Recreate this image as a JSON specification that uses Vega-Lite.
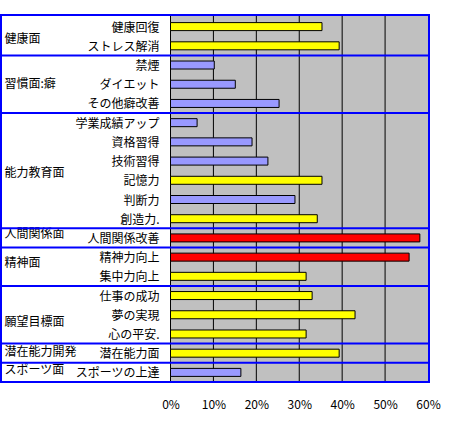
{
  "$schema": "https://vega.github.io/schema/vega-lite/v6.json",
  "autosize": "none",
  "width": 428,
  "height": 367,
  "padding": {"left": 1, "top": 15, "right": 28, "bottom": 48},
  "background": "white",
  "config": {
    "view": {"stroke": null},
    "font": "Noto Sans CJK JP",
    "axis": {"title": null}
  },
  "datasets": {
    "answers": [
      {"group": "健康面", "item": "健康回復", "value": 0.353},
      {"group": "健康面", "item": "ストレス解消", "value": 0.393},
      {"group": "習慣面:癖", "item": "禁煙", "value": 0.102},
      {"group": "習慣面:癖", "item": "ダイエット", "value": 0.151},
      {"group": "習慣面:癖", "item": "その他癖改善", "value": 0.253},
      {"group": "能力教育面", "item": "学業成績アップ", "value": 0.062},
      {"group": "能力教育面", "item": "資格習得", "value": 0.190},
      {"group": "能力教育面", "item": "技術習得", "value": 0.227},
      {"group": "能力教育面", "item": "記憶力", "value": 0.353},
      {"group": "能力教育面", "item": "判断力", "value": 0.290},
      {"group": "能力教育面", "item": "創造力.", "value": 0.342},
      {"group": "人間関係面", "item": "人間関係改善", "value": 0.581},
      {"group": "精神面", "item": "精神力向上", "value": 0.556},
      {"group": "精神面", "item": "集中力向上", "value": 0.316},
      {"group": "願望目標面", "item": "仕事の成功", "value": 0.330},
      {"group": "願望目標面", "item": "夢の実現", "value": 0.430},
      {"group": "願望目標面", "item": "心の平安.", "value": 0.316},
      {"group": "潜在能力開発", "item": "潜在能力面", "value": 0.393},
      {"group": "スポーツ面", "item": "スポーツの上達", "value": 0.164}
    ],
    "gridlines": [
      {"t": 0}, {"t": 0.1}, {"t": 0.2}, {"t": 0.3}, {"t": 0.4}, {"t": 0.5}
    ]
  },
  "data": {"name": "answers"},
  "layer": [
    {
      "data": {"values": [{}]},
      "mark": {"type": "rect", "fill": "#C0C0C0"},
      "encoding": {
        "x": {"datum": 0, "type": "quantitative"},
        "x2": {"datum": 0.6}
      }
    },
    {
      "data": {"name": "gridlines"},
      "mark": {"type": "rule", "color": "black", "strokeWidth": 1},
      "encoding": {
        "x": {"field": "t", "type": "quantitative", "title": null}
      }
    },
    {
      "mark": {"type": "bar", "size": 8, "stroke": "black", "strokeWidth": 1},
      "encoding": {
        "y": {
          "field": "item",
          "type": "nominal",
          "sort": null,
          "title": null,
          "scale": {"range": [2, 367], "paddingInner": 0, "paddingOuter": 0},
          "axis": {
            "orient": "left",
            "offset": -3,
            "domain": false,
            "ticks": false,
            "grid": false,
            "labelAlign": "left",
            "labelBaseline": "middle",
            "labelPadding": 0,
            "labelFontSize": 12,
            "labelFont": "Noto Sans CJK JP",
            "labelColor": "black",
            "labelLimit": 200,
            "labelOverlap": false,
            "labelExpr": "datum.value == '健康回復' ? '健康面' : datum.value == 'ダイエット' ? '習慣面:癖' : datum.value == '技術習得' ? '能力教育面' : datum.value == '人間関係改善' ? '人間関係面' : datum.value == '精神力向上' ? '精神面' : datum.value == '夢の実現' ? '願望目標面' : datum.value == '潜在能力面' ? '潜在能力開発' : datum.value == 'スポーツの上達' ? 'スポーツ面' : ''",
            "labelOffset": {
              "condition": [
                {"test": "datum.value == '健康回復' || datum.value == '技術習得'", "value": 12},
                {"test": "datum.value == '精神力向上'", "value": 6},
                {"test": "datum.value == '夢の実現'", "value": 7},
                {"test": "datum.value == '人間関係改善'", "value": -4},
                {"test": "datum.value == 'スポーツの上達'", "value": -2},
                {"test": "datum.value == '潜在能力面'", "value": -1}
              ],
              "value": 0
            }
          }
        },
        "x": {
          "field": "value",
          "type": "quantitative",
          "title": null,
          "scale": {"domain": [0, 0.6], "range": [169.5, 427], "nice": false, "zero": false},
          "axis": {
            "values": [0, 0.1, 0.2, 0.3, 0.4, 0.5, 0.6],
            "format": ".0%",
            "domain": false,
            "ticks": false,
            "grid": false,
            "labelPadding": 17,
            "labelFlush": false,
            "labelFontSize": 12,
            "labelFont": "Noto Sans CJK JP",
            "labelColor": "black"
          }
        },
        "color": {
          "field": "value",
          "type": "quantitative",
          "scale": {"type": "threshold", "domain": [0.3, 0.5], "range": ["#9999FF", "#FFFF00", "#FF0000"]},
          "legend": null
        }
      }
    },
    {
      "transform": [
        {"window": [{"op": "row_number", "as": "pos"}], "groupby": ["group"]},
        {"filter": "datum.pos == 1 && datum.group != '健康面'"}
      ],
      "mark": {"type": "rule", "color": "#0000FF", "strokeWidth": 2},
      "encoding": {
        "y": {"field": "item", "type": "nominal", "sort": null, "bandPosition": 0, "title": null}
      }
    },
    {
      "data": {"values": [{}]},
      "mark": {"type": "rect", "fillOpacity": 0, "stroke": "#0000FF", "strokeWidth": 2},
      "encoding": {}
    },
    {
      "mark": {"type": "text", "align": "right", "baseline": "middle", "dx": -11, "dy": 1, "fontSize": 12, "font": "Noto Sans CJK JP", "color": "black"},
      "encoding": {
        "y": {"field": "item", "type": "nominal", "sort": null, "title": null},
        "x": {"datum": 0, "type": "quantitative"},
        "text": {"field": "item"}
      }
    }
  ]
}
